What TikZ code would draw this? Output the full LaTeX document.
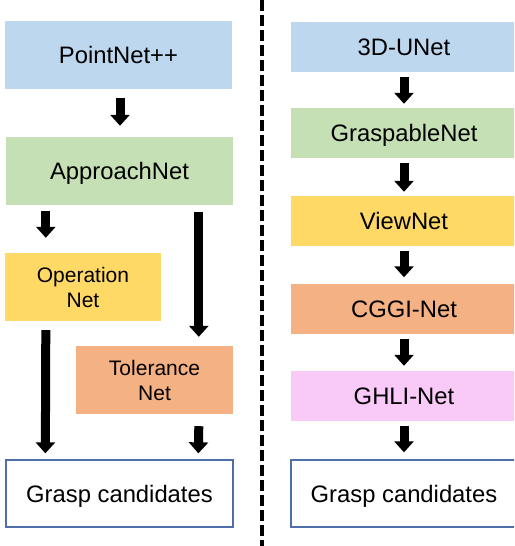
\documentclass[tikz,border=0pt]{standalone}
\usepackage{fontspec}
\setmainfont{Liberation Sans}
\usetikzlibrary{arrows.meta,calc}
\definecolor{cblue}{HTML}{BDD7EE}
\definecolor{cgreen}{HTML}{C5E0B4}
\definecolor{cyellow}{HTML}{FFD966}
\definecolor{corange}{HTML}{F4B183}
\definecolor{cpink}{HTML}{F9C9F7}
\definecolor{cborder}{HTML}{4F6FA8}
\tikzset{
  basebox/.style={rectangle, draw=none, inner sep=0pt, align=center},
  box/.style={basebox, font=\fontsize{23.8}{25}\selectfont, text height=17pt, text depth=0pt},
  twoline/.style={basebox, font=\fontsize{21}{25}\selectfont},
  outbox/.style={box, draw=cborder, line width=1.3pt},
  bigarrow/.style={line width=9pt, -{Triangle[width=19pt,length=11pt]}},
  sep/.style={line width=3.5pt, dash pattern=on 11pt off 4pt}
}
\begin{document}
\begin{tikzpicture}[x=1pt,y=-1pt]
\clip (0,0) rectangle (514,546);
\useasboundingbox (0,0) rectangle (514,546);
% left column
\node[box, fill=cblue, minimum width=227pt, minimum height=68pt] (pn) at (118.5,55) {PointNet++};
\node[box, fill=cgreen, minimum width=227pt, minimum height=68pt] (appr) at (119.5,171) {ApproachNet};
\node[twoline, fill=cyellow, minimum width=156pt, minimum height=68pt] (op) at (83,287) {Operation\\Net};
\node[twoline, fill=corange, minimum width=157pt, minimum height=68pt] (tol) at (154.5,380) {Tolerance\\Net};
\node[outbox, minimum width=227pt, minimum height=67pt] (gcl) at (119.5,493.5) {Grasp candidates};
% right column
\node[box, fill=cblue, minimum width=226pt, minimum height=50pt] (unet) at (404,47) {3D-UNet};
\node[box, fill=cgreen, minimum width=226pt, minimum height=50pt] (gn) at (404,133) {GraspableNet};
\node[box, fill=cyellow, minimum width=226pt, minimum height=50pt] (vn) at (404,221) {ViewNet};
\node[box, fill=corange, minimum width=226pt, minimum height=50pt] (cg) at (404,308.5) {CGGI-Net};
\node[box, fill=cpink, minimum width=226pt, minimum height=50pt] (gh) at (404,396) {GHLI-Net};
\node[outbox, minimum width=226pt, minimum height=67pt] (gcr) at (404,493.5) {Grasp candidates};
% separator
\coordinate (stop) at (262,0);
\coordinate (sbot) at (262,546);
\draw[sep] (stop) -- (sbot);
% left arrows
\draw[bigarrow] ($(pn.south)+(1.5,9)$) -- ($(appr.north)+(0.5,-11)$);
\draw[bigarrow] ($(appr.south west)+(40,6)$) -- ($(op.north west)+(41,-15)$);
\draw[bigarrow] ($(appr.south west)+(193,7)$) -- ($(tol.north west)+(123,-9)$);
\draw[bigarrow] ($(op.south west)+(41,9)$) -- ($(gcl.north west)+(40,-6)$);
\draw[bigarrow] ($(tol.south west)+(123,12)$) -- ($(gcl.north west)+(193,-6)$);
% right arrows
\draw[bigarrow] ($(unet.south)+(0,5)$) -- ($(gn.north)+(0,-4)$);
\draw[bigarrow] ($(gn.south)+(0,5)$) -- ($(vn.north)+(0,-4)$);
\draw[bigarrow] ($(vn.south)+(0,5)$) -- ($(cg.north)+(0,-6)$);
\draw[bigarrow] ($(cg.south)+(0,5)$) -- ($(gh.north)+(0,-5)$);
\draw[bigarrow] ($(gh.south)+(0,5)$) -- ($(gcr.north)+(0,-7)$);
\end{tikzpicture}
\end{document}
